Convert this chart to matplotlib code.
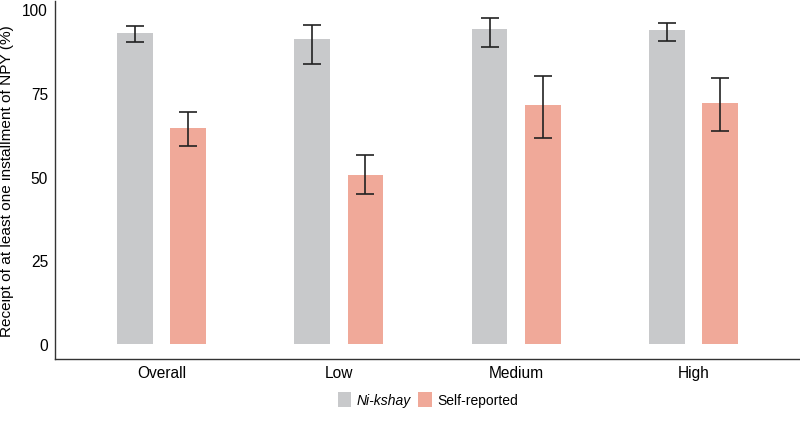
import numpy as np
import matplotlib.pyplot as plt

plt.rcParams['font.family'] = ['Liberation Sans', 'DejaVu Sans']

groups = ['Overall', 'Low', 'Medium', 'High']
nikshay = [92.9, 91.1, 94.2, 93.7]
nikshay_lo = [90.1, 83.7, 88.8, 90.4]
nikshay_hi = [95.0, 95.4, 97.2, 95.9]
selfrep = [64.4, 50.5, 71.4, 72.1]
selfrep_lo = [59.0, 44.9, 61.4, 63.7]
selfrep_hi = [69.3, 56.3, 79.9, 79.4]
yticks = [0, 25, 50, 75, 100]

gray = '#c8c9cb'
salmon = '#f0a999'

fig = plt.figure(figsize=(8, 4.39), dpi=100)
ax = fig.add_axes([55 / 800, 1 - 360.3 / 439, 745 / 800, 360.3 / 439 - 0.004])

x = np.arange(len(groups))
w = 0.2
off = 0.15

def errs(v, lo, hi):
    v, lo, hi = np.array(v), np.array(lo), np.array(hi)
    return [v - lo, hi - v]

ax.bar(x - off, nikshay, w, color=gray, label='Ni-kshay')
ax.bar(x + off, selfrep, w, color=salmon, label='Self-reported')
ax.errorbar(x - off, nikshay, yerr=errs(nikshay, nikshay_lo, nikshay_hi), fmt='none',
            ecolor='#222222', elinewidth=1.2, capsize=6.5, capthick=1.2)
ax.errorbar(x + off, selfrep, yerr=errs(selfrep, selfrep_lo, selfrep_hi), fmt='none',
            ecolor='#222222', elinewidth=1.2, capsize=6.5, capthick=1.2)

ax.set_xlim(-0.6, 3.6)
ax.set_ylim(-4.6, 102.5)
ax.set_xticks(x)
ax.set_xticklabels(groups, fontsize=11.2)
ax.set_yticks(yticks)
ax.set_yticklabels([str(t) for t in yticks], fontsize=11.2)
ax.tick_params(axis='x', length=0, pad=4)
ax.tick_params(axis='y', length=0, pad=5)
for s in ['top', 'right']:
    ax.spines[s].set_visible(False)
for s in ['left', 'bottom']:
    ax.spines[s].set_color('#333333')
    ax.spines[s].set_linewidth(1.0)
ax.set_ylabel('Receipt of at least one installment of NPY (%)', fontsize=11.1, labelpad=6)

leg = fig.legend(loc='center', bbox_to_anchor=(0.535, 0.087), ncol=2, frameon=False,
                 fontsize=10, handlelength=1.0, handleheight=1.2, handletextpad=0.4,
                 columnspacing=0.5)
leg.get_texts()[0].set_fontstyle('italic')

fig.savefig('out.png', dpi=100)
